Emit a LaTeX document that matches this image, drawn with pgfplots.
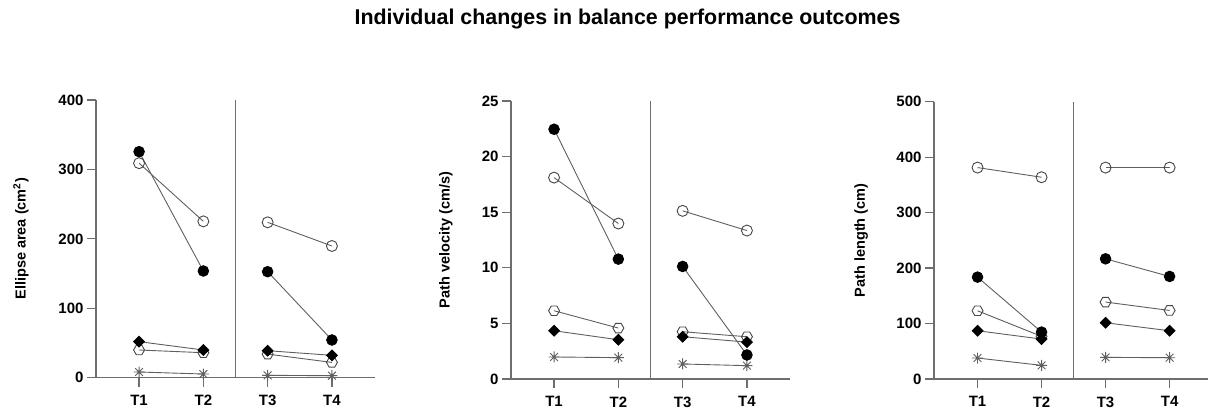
\documentclass[border=0pt]{standalone}
\usepackage{pgfplots}
\pgfplotsset{compat=1.18}
\usepackage{fontspec}
\setmainfont{Liberation Sans}

\definecolor{axgray}{RGB}{110,110,110}
\definecolor{lngray}{RGB}{95,95,95}
\definecolor{mkgray}{RGB}{70,70,70}

\pgfdeclareplotmark{hexa}{%
  \pgfpathmoveto{\pgfqpointpolar{0}{\pgfplotmarksize}}%
  \pgfpathlineto{\pgfqpointpolar{60}{\pgfplotmarksize}}%
  \pgfpathlineto{\pgfqpointpolar{120}{\pgfplotmarksize}}%
  \pgfpathlineto{\pgfqpointpolar{180}{\pgfplotmarksize}}%
  \pgfpathlineto{\pgfqpointpolar{240}{\pgfplotmarksize}}%
  \pgfpathlineto{\pgfqpointpolar{300}{\pgfplotmarksize}}%
  \pgfpathclose\pgfusepathqstroke}
\pgfdeclareplotmark{ast8}{%
  \pgfpathmoveto{\pgfqpoint{-\pgfplotmarksize}{0pt}}\pgfpathlineto{\pgfqpoint{\pgfplotmarksize}{0pt}}%
  \pgfpathmoveto{\pgfqpoint{0pt}{-\pgfplotmarksize}}\pgfpathlineto{\pgfqpoint{0pt}{\pgfplotmarksize}}%
  \pgfpathmoveto{\pgfqpointpolar{45}{\pgfplotmarksize}}\pgfpathlineto{\pgfqpointpolar{225}{\pgfplotmarksize}}%
  \pgfpathmoveto{\pgfqpointpolar{135}{\pgfplotmarksize}}\pgfpathlineto{\pgfqpointpolar{315}{\pgfplotmarksize}}%
  \pgfusepathqstroke}

\pgfplotsset{
  panel/.style={
    scale only axis, width=279pt, height=277.7pt,
    axis lines=left, axis line style={-, draw=axgray, line width=1.3pt},
    xmin=0.33, xmax=4.67, ymin=0,
    xtick={1,2,3,4}, xticklabels={T1,T2,T3,T4},
    tick align=outside, major tick length=9pt,
    tick style={draw=axgray, line width=1.3pt},
    tick label style={font=\fontsize{15}{17}\selectfont\bfseries},
    xticklabel style={yshift=-5pt},
    /pgf/number format/assume math mode=true,
    clip=false,
  },
  ln/.style={draw=lngray, line width=0.9pt},
  openc/.style={ln, mark=o, mark size=5.5pt, mark options={draw=mkgray, line width=0.9pt}},
  hexm/.style={ln, mark=hexa, mark size=5.5pt, mark options={draw=mkgray, line width=0.9pt}},
  astm/.style={ln, mark=ast8, mark size=5.5pt, mark options={draw=lngray, line width=0.9pt}},
  diam/.style={ln, mark=square*, mark size=3.8pt, mark options={fill=black, draw=black, rotate=45}},
  fillc/.style={ln, mark=*, mark size=5.3pt, mark options={fill=black, draw=black}},
  divider/.style={draw=axgray, line width=1.3pt},
  ylab/.style={ylabel style={font=\fontsize{14.5}{17}\selectfont\bfseries, anchor=center, at={(axis description cs:#1,0.5)}}},
}

\begin{document}
\begin{tikzpicture}[x=1pt,y=1pt]
\useasboundingbox (0,0) rectangle (1208,412);
\node[font=\fontsize{21.4}{24}\selectfont\bfseries] at (627.5,393) {Individual changes in balance performance outcomes};

% Panel 1: Ellipse area
\begin{axis}[panel, at={(96pt,34.3pt)}, anchor=south west, ymax=400, ytick={0,100,200,300,400},
  ylab=-0.269, ylabel={Ellipse area (cm\textsuperscript{2})}]
\addplot[divider] coordinates {(2.5,0) (2.5,400)};
\addplot[openc] coordinates {(1,309) (2,225.2)};
\addplot[openc] coordinates {(3,223.8) (4,189.7)};
\addplot[hexm] coordinates {(1,39.9) (2,36)};
\addplot[hexm] coordinates {(3,34) (4,22)};
\addplot[astm] coordinates {(1,8.2) (2,5.3)};
\addplot[astm] coordinates {(3,3.4) (4,2.9)};
\addplot[diam] coordinates {(1,51.9) (2,39.9)};
\addplot[diam] coordinates {(3,38.9) (4,32.2)};
\addplot[fillc] coordinates {(1,325.6) (2,153.7)};
\addplot[fillc] coordinates {(3,152.7) (4,54.3)};
\end{axis}

% Panel 2: Path velocity
\begin{axis}[panel, at={(511pt,33pt)}, anchor=south west, height=278pt, ymax=25, ytick={0,5,10,15,20,25},
  ylab=-0.233, ylabel={Path velocity (cm/s)}]
\addplot[divider] coordinates {(2.5,0) (2.5,25)};
\addplot[openc] coordinates {(1,18.11) (2,13.98)};
\addplot[openc] coordinates {(3,15.12) (4,13.35)};
\addplot[hexm] coordinates {(1,6.14) (2,4.58)};
\addplot[hexm] coordinates {(3,4.25) (4,3.80)};
\addplot[astm] coordinates {(1,1.98) (2,1.92)};
\addplot[astm] coordinates {(3,1.35) (4,1.20)};
\addplot[diam] coordinates {(1,4.34) (2,3.53)};
\addplot[diam] coordinates {(3,3.80) (4,3.32)};
\addplot[fillc] coordinates {(1,22.46) (2,10.78)};
\addplot[fillc] coordinates {(3,10.12) (4,2.16)};
\end{axis}

% Panel 3: Path length
\begin{axis}[panel, at={(934pt,33pt)}, anchor=south west, width=274pt, height=277.3pt, xmin=0.32, xmax=4.6,
  ymax=500, ytick={0,100,200,300,400,500},
  ylab=-0.266, ylabel={Path length (cm)}]
\addplot[divider] coordinates {(2.5,0) (2.5,500)};
\addplot[openc] coordinates {(1,381.2) (2,363.8)};
\addplot[openc] coordinates {(3,381.2) (4,381.2)};
\addplot[hexm] coordinates {(1,123) (2,76.8)};
\addplot[hexm] coordinates {(3,138.7) (4,123.6)};
\addplot[astm] coordinates {(1,37.8) (2,24.6)};
\addplot[astm] coordinates {(3,39) (4,38.4)};
\addplot[diam] coordinates {(1,87) (2,72)};
\addplot[diam] coordinates {(3,101.4) (4,87)};
\addplot[fillc] coordinates {(1,183.7) (2,84.6)};
\addplot[fillc] coordinates {(3,216.7) (4,184.9)};
\end{axis}
\end{tikzpicture}
\end{document}
